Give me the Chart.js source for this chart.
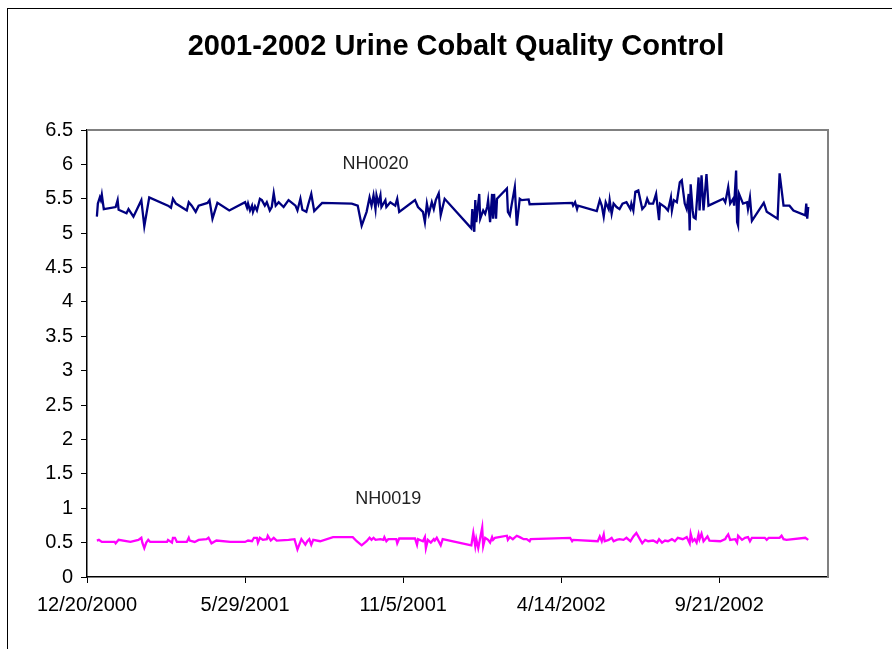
<!DOCTYPE html>
<html>
<head>
<meta charset="utf-8">
<script src="https://cdn.jsdelivr.net/npm/chart.js@4.4.0/dist/chart.umd.min.js"></script>
<style>
html,body{margin:0;padding:0;background:#fff;overflow:hidden}
#frame{position:absolute;left:7px;top:8px;width:1000px;height:1000px;border:1px solid #000}
canvas{position:absolute;left:0;top:0}
</style>
</head>
<body>
<div id="frame"></div>
<canvas id="qc" width="892" height="649"></canvas>
<script>
// days counted from 12/20/2000
const startDate = Date.UTC(2000, 11, 20)
const xTickDays = [0, 160, 320, 480, 640]

const nh0020Day = [10,11,13,14,15,17,29,31,32,40,42,47,55,58,63,82,85,87,90,101,103,106,110,113,122,124,127,132,144,160,162,163,165,167,168,170,172,175,177,180,182,185,187,189,191,194,199,204,211,213,216,218,222,224,227,230,238,268,274,278,283,286,288,290,292,293,295,297,298,302,303,307,312,314,316,332,335,340,342,344,346,349,351,353,356,358,362,389,390,392,393,394,397,398,401,403,405,406,408,410,411,412,414,415,425,426,428,430,433,435,438,440,447,448,491,492,494,496,497,516,519,521,523,525,528,529,531,533,536,539,542,546,548,550,551,553,555,558,562,565,567,569,573,576,579,580,585,588,591,592,594,597,600,602,605,607,609,610,611,613,614,616,619,620,622,624,627,629,644,646,647,649,651,654,655,657,658,659,660,664,668,669,671,673,685,686,688,699,701,705,711,715,727,728,729,730]
const nh0020Value = [5.24,5.43,5.52,5.48,5.56,5.35,5.38,5.48,5.34,5.29,5.35,5.24,5.48,5.10,5.52,5.40,5.37,5.50,5.43,5.33,5.45,5.40,5.31,5.40,5.44,5.48,5.21,5.44,5.33,5.45,5.37,5.43,5.33,5.40,5.31,5.39,5.33,5.50,5.48,5.40,5.45,5.33,5.38,5.58,5.40,5.45,5.38,5.48,5.40,5.33,5.50,5.34,5.31,5.42,5.57,5.32,5.44,5.43,5.40,5.11,5.31,5.52,5.40,5.55,5.35,5.55,5.43,5.55,5.38,5.48,5.38,5.45,5.40,5.50,5.31,5.48,5.38,5.31,5.16,5.43,5.28,5.45,5.35,5.48,5.58,5.26,5.50,5.07,5.35,5.02,5.48,5.16,5.57,5.21,5.33,5.28,5.38,5.48,5.16,5.57,5.21,5.57,5.21,5.50,5.65,5.31,5.26,5.43,5.67,5.11,5.50,5.48,5.49,5.42,5.44,5.40,5.45,5.35,5.40,5.32,5.48,5.40,5.24,5.45,5.35,5.48,5.28,5.43,5.38,5.35,5.43,5.45,5.40,5.35,5.43,5.33,5.60,5.62,5.35,5.40,5.50,5.43,5.43,5.57,5.19,5.43,5.38,5.33,5.52,5.33,5.48,5.45,5.74,5.77,5.43,5.35,5.57,5.04,5.71,5.33,5.23,5.21,5.81,5.33,5.84,5.33,5.86,5.40,5.50,5.45,5.52,5.67,5.43,5.50,5.40,5.91,5.16,5.11,5.57,5.43,5.45,5.35,5.52,5.18,5.44,5.40,5.31,5.21,5.87,5.40,5.40,5.33,5.26,5.43,5.21,5.38]

const nh0019Day = [10,12,15,28,29,32,44,52,55,56,58,60,62,64,81,82,86,87,89,91,101,103,104,109,113,121,123,126,131,145,160,163,167,169,172,173,175,178,182,183,186,189,192,204,210,213,217,221,223,225,227,229,236,249,269,273,278,283,286,288,290,292,297,300,301,303,305,313,314,316,332,334,335,340,342,343,345,348,351,352,354,358,360,389,391,393,394,396,400,401,403,406,408,410,411,413,425,426,428,431,435,438,442,445,448,449,489,491,492,517,519,521,523,524,528,531,533,536,539,543,546,550,553,556,560,562,565,568,573,577,579,582,585,588,592,595,598,603,607,610,611,613,615,617,619,620,622,624,628,630,641,646,647,649,651,656,658,659,663,666,669,671,673,686,688,690,701,703,705,708,727,730]
const nh0019Value = [0.53,0.54,0.51,0.51,0.49,0.54,0.51,0.54,0.57,0.50,0.42,0.50,0.54,0.51,0.51,0.54,0.50,0.57,0.57,0.51,0.51,0.57,0.53,0.51,0.54,0.55,0.57,0.49,0.53,0.51,0.51,0.53,0.52,0.57,0.57,0.50,0.57,0.54,0.55,0.60,0.53,0.57,0.53,0.54,0.55,0.40,0.55,0.47,0.52,0.55,0.47,0.54,0.52,0.58,0.58,0.52,0.46,0.52,0.57,0.54,0.57,0.54,0.55,0.54,0.58,0.52,0.55,0.55,0.49,0.56,0.56,0.47,0.55,0.52,0.58,0.42,0.54,0.50,0.55,0.53,0.57,0.46,0.55,0.46,0.64,0.45,0.55,0.42,0.72,0.45,0.57,0.54,0.50,0.58,0.54,0.57,0.60,0.54,0.58,0.55,0.60,0.58,0.55,0.55,0.52,0.55,0.57,0.52,0.54,0.52,0.59,0.52,0.62,0.52,0.54,0.57,0.52,0.54,0.55,0.54,0.57,0.52,0.59,0.64,0.54,0.49,0.54,0.52,0.53,0.50,0.55,0.50,0.53,0.52,0.55,0.52,0.57,0.55,0.58,0.49,0.63,0.52,0.55,0.50,0.62,0.55,0.63,0.52,0.59,0.53,0.52,0.55,0.58,0.62,0.54,0.55,0.50,0.60,0.54,0.57,0.58,0.52,0.57,0.57,0.54,0.57,0.57,0.60,0.55,0.54,0.57,0.54]

const seriesNames = ["NH0020", "NH0019"]
const labelAt = [[292, 6.0], [305, 1.13]]

function dayLabel(d){
let dt = new Date(startDate + d*86400000)
return (dt.getUTCMonth()+1) + "/" + dt.getUTCDate() + "/" + dt.getUTCFullYear()
}

function pts(days, vals){
return days.map((d,i)=>({x:d, y:vals[i]}))
}

const font = "'Liberation Sans', Arial, sans-serif"

const extras = {
id:"extras",
beforeDatasetsDraw(chart){
let c = chart.ctx, a = chart.chartArea
c.save()
c.strokeStyle = "#808080"
c.lineWidth = 2
c.beginPath()
c.moveTo(a.left, a.top)
c.lineTo(a.right, a.top)
c.lineTo(a.right, a.bottom)
c.stroke()
c.restore()
},
afterDatasetsDraw(chart){
let c = chart.ctx
c.save()
c.fillStyle = "#000"
c.font = "bold 29px " + font
c.textAlign = "center"
c.textBaseline = "middle"
c.fillText("2001-2002 Urine Cobalt Quality Control", 456, 47)
c.font = "18px " + font
c.fillStyle = "#222"
seriesNames.forEach((n,i)=>{
let x = chart.scales.x.getPixelForValue(labelAt[i][0])
let y = chart.scales.y.getPixelForValue(labelAt[i][1])
c.fillText(n, x, y)
})
c.restore()
}
}

new Chart(document.getElementById("qc"),{
type:"line",
data:{
datasets:[{
label:seriesNames[0],
data:pts(nh0020Day, nh0020Value),
borderColor:"#000080",
borderWidth:2.3,
pointRadius:0,
tension:0
},{
label:seriesNames[1],
data:pts(nh0019Day, nh0019Value),
borderColor:"#ff00ff",
borderWidth:2.3,
pointRadius:0,
tension:0
}]
},
options:{
responsive:false,
animation:false,
layout:{padding:{top:130, right:64, bottom:0, left:0}},
plugins:{legend:{display:false}, tooltip:{enabled:false}, title:{display:false}},
scales:{
x:{
type:"linear",
min:0, max:750,
afterBuildTicks:s=>{ s.ticks = xTickDays.map(v=>({value:v})) },
afterFit:s=>{ s.height = 72 },
grid:{drawOnChartArea:false, tickLength:6, color:"#000"},
border:{color:"#000", width:1.5},
ticks:{callback:v=>dayLabel(v), color:"#000", font:{family:font, size:20}, padding:10, maxRotation:0, autoSkip:false}
},
y:{
min:0, max:6.5,
ticks:{stepSize:0.5, callback:v=>String(v), color:"#000", font:{family:font, size:20}, padding:8},
afterFit:s=>{ s.width = 87 },
grid:{drawOnChartArea:false, tickLength:6, color:"#000"},
border:{color:"#000", width:1.5}
}
}
},
plugins:[extras]
})
</script>
</body>
</html>
